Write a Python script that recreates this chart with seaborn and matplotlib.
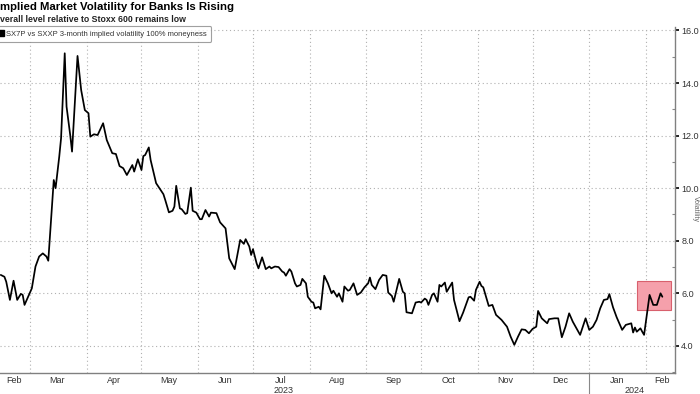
import matplotlib
matplotlib.use("Agg")
import matplotlib.pyplot as plt
import matplotlib.dates as mdates
from matplotlib.lines import Line2D
from matplotlib.patches import Rectangle
import seaborn as sns
import pandas as pd
import numpy as np

# ---- data ----
start_date = "2023-02-13"
day_offsets = [0, 2, 3, 5, 7, 9, 11, 12, 13, 17, 19, 21, 23, 25, 26, 29, 30, 32, 33, 35,
               36, 38, 39, 42, 44, 46, 48, 49, 51, 53, 56, 58, 61, 63, 65, 67, 69, 72, 73, 75,
               77, 78, 79, 81, 82, 85, 89, 90, 92, 94, 95, 96, 98, 99, 101, 102, 104, 105, 107, 109,
               110, 112, 114, 115, 118, 120, 123, 125, 128, 131, 133, 134, 136, 137, 138, 140, 141, 143, 145, 147,
               148, 150, 152, 154, 155, 156, 158, 159, 161, 162, 164, 165, 167, 168, 170, 171, 172, 174, 175, 177,
               179, 181, 182, 184, 185, 187, 188, 190, 191, 193, 195, 197, 199, 201, 202, 203, 205, 207, 209, 211,
               212, 214, 215, 217, 218, 220, 221, 222, 225, 227, 229, 230, 232, 233, 234, 236, 237, 239, 240, 241,
               243, 244, 247, 248, 250, 251, 253, 256, 257, 259, 260, 262, 263, 264, 266, 267, 269, 271, 274, 277,
               279, 281, 283, 285, 287, 289, 291, 293, 294, 296, 299, 300, 303, 305, 307, 309, 311, 313, 315, 317,
               320, 322, 324, 326, 328, 330, 332, 333, 335, 337, 340, 342, 345, 346, 347, 348, 350, 351, 352, 355,
               357, 359, 361, 362]
vol_ratio = [6.70, 6.63, 6.44, 5.75, 6.48, 5.75, 5.98, 5.94, 5.56, 6.19, 7.02, 7.40, 7.52, 7.40, 7.24, 10.31, 10.00, 11.20, 11.90, 15.13,
             13.10, 12.02, 11.39, 15.03, 13.73, 12.97, 12.85, 11.96, 12.05, 12.02, 12.47, 11.83, 11.33, 11.30, 10.84, 10.76, 10.50, 10.88, 10.63, 11.10,
             10.69, 11.22, 11.26, 11.55, 11.07, 10.19, 9.77, 9.55, 9.08, 9.14, 9.30, 10.09, 9.23, 9.20, 9.02, 9.05, 10.02, 9.14, 9.07, 8.82,
             8.82, 9.17, 8.92, 9.07, 9.05, 8.70, 8.47, 7.33, 6.92, 8.03, 7.88, 8.06, 7.78, 7.46, 7.68, 7.14, 6.95, 7.37, 6.92, 7.02,
             6.95, 7.02, 7.00, 6.83, 6.79, 6.67, 6.92, 6.83, 6.38, 6.26, 6.32, 6.55, 6.38, 5.87, 5.68, 5.65, 5.43, 5.49, 5.39, 6.67,
             6.38, 6.00, 6.10, 5.87, 6.00, 5.68, 6.26, 6.10, 6.13, 6.38, 5.94, 6.03, 6.23, 6.38, 6.60, 6.32, 6.16, 6.51, 6.70, 6.67,
             6.03, 5.90, 5.68, 6.26, 6.55, 6.06, 6.00, 5.28, 5.24, 5.65, 5.68, 5.65, 5.80, 5.75, 5.56, 5.94, 6.00, 5.68, 6.32, 6.26,
             6.41, 6.06, 6.41, 5.75, 5.22, 4.94, 5.27, 5.85, 5.87, 5.72, 6.13, 6.44, 6.28, 6.23, 5.75, 5.52, 5.56, 5.18, 4.99, 4.73,
             4.35, 4.04, 4.35, 4.63, 4.61, 4.48, 4.65, 4.73, 5.33, 5.05, 4.86, 5.02, 5.05, 5.05, 4.33, 4.73, 5.24, 4.92, 4.67, 4.42,
             5.05, 4.61, 4.73, 4.99, 5.43, 5.75, 5.78, 5.97, 5.47, 5.09, 4.61, 4.80, 4.86, 4.51, 4.70, 4.54, 4.67, 4.54, 4.42, 5.94,
             5.56, 5.56, 6.00, 5.87]

y_ticks = [4.0, 6.0, 8.0, 10.0, 12.0, 14.0, 16.0]
month_labels = ["Feb", "Mar", "Apr", "May", "Jun", "Jul", "Aug", "Sep", "Oct", "Nov", "Dec", "Jan", "Feb"]
month_label_dates = ["2023-02-20", "2023-03-16", "2023-04-16", "2023-05-16", "2023-06-16", "2023-07-16",
                     "2023-08-16", "2023-09-16", "2023-10-16", "2023-11-16", "2023-12-16", "2024-01-16", "2024-02-10"]
year_labels = ["2023", "2024"]
year_label_dates = ["2023-07-18", "2024-01-26"]
highlight_dates = ["2024-01-27", "2024-02-15"]
highlight_range = [5.37, 6.47]

title = "mplied Market Volatility for Banks Is Rising"
subtitle = "verall level relative to Stoxx 600 remains low"
series_name = "SX7P vs SXXP 3-month implied volatility 100% moneyness"
axis_note = "Volatility"

df = pd.DataFrame({
    "date": pd.Timestamp(start_date) + pd.to_timedelta(day_offsets, unit="D"),
    "value": vol_ratio,
})

# ---- figure ----
sns.set_style("white")
plt.rcParams["font.family"] = ["Liberation Sans", "DejaVu Sans"]

fig = plt.figure(figsize=(7.0, 3.94), dpi=100)
ax = fig.add_axes([0.0, 1 - 373 / 394, 675 / 700, (373 - 27) / 394])

# highlight box
h0, h1 = pd.Timestamp(highlight_dates[0]), pd.Timestamp(highlight_dates[1])
ax.add_patch(Rectangle((mdates.date2num(h0), highlight_range[0]),
                       mdates.date2num(h1) - mdates.date2num(h0),
                       highlight_range[1] - highlight_range[0],
                       facecolor="#f5a0ab", edgecolor="#d8606d", lw=0.8, zorder=1))

sns.lineplot(data=df, x="date", y="value", ax=ax, color="black", lw=1.25, zorder=3)

ax.set_xlim(pd.Timestamp("2023-02-12 14:00"), pd.Timestamp("2024-02-16 22:00"))
ax.set_ylim(2.97, 16.13)
ax.set_xlabel("")
ax.set_ylabel("")

# y axis on the right
ax.yaxis.tick_right()
ax.set_yticks(y_ticks)
ax.set_yticklabels([f"{v:.1f}" for v in y_ticks])
ax.set_yticks(np.arange(3.0, 16.5, 2.0), minor=True)
ax.tick_params(axis="y", which="major", direction="out", length=3, width=1.2,
               color="black", labelsize=6.5, labelcolor="#333333", pad=1.5)
ax.tick_params(axis="y", which="minor", direction="in", length=2.5, width=0.8, color="#888888")

# x axis: month boundaries (ticks/grid) and mid-month labels
month_starts = pd.date_range("2023-03-01", "2024-02-01", freq="MS")
ax.set_xticks(mdates.date2num(month_starts))
ax.set_xticklabels([])
ax.set_xticks(mdates.date2num(pd.to_datetime(month_label_dates)), minor=True)
ax.set_xticklabels(month_labels, minor=True)
ax.tick_params(axis="x", which="major", direction="out", length=3, width=0.8, color="#888888")
ax.tick_params(axis="x", which="minor", length=0, labelsize=6.5, labelcolor="#333333", pad=2)

for d, lab in zip(year_label_dates, year_labels):
    ax.text(mdates.date2num(pd.Timestamp(d)), -0.05, lab, transform=ax.get_xaxis_transform(),
            ha="center", va="center", fontsize=6.5, color="#333333")
ax.axvline(mdates.date2num(pd.Timestamp("2024-01-01")), ymin=-0.06, ymax=0, clip_on=False,
           color="#888888", lw=0.8)

ax.grid(True, which="major", axis="both", linestyle=(0, (1, 2.5)), color="#b0b0b0", lw=0.8)
for s in ["top", "left"]:
    ax.spines[s].set_visible(False)
for s in ["right", "bottom"]:
    ax.spines[s].set_color("#808080")
    ax.spines[s].set_linewidth(1.0)

# legend
handle = Line2D([], [], marker="s", color="black", linestyle="none", markersize=4.5)
leg = ax.legend([handle], [series_name], loc="upper left",
                bbox_to_anchor=(-6 / 700, 1 - 26 / 394), bbox_transform=fig.transFigure,
                frameon=True, fancybox=True, fontsize=5.5, handletextpad=0.25,
                borderpad=0.55, handlelength=0.8, borderaxespad=0)
leg.get_frame().set_edgecolor("#888888")
leg.get_frame().set_linewidth(0.8)
for t in leg.get_texts():
    t.set_color("#333333")

# titles
fig.text(0.0, 1 - 7 / 394, title, ha="left", va="center", fontsize=8.2, fontweight="bold", color="black")
fig.text(0.0, 1 - 19 / 394, subtitle, ha="left", va="center", fontsize=6.3, fontweight="bold", color="#222222")
fig.text(692 / 700, 1 - 196 / 394, axis_note, rotation=270, ha="left", va="top",
         fontsize=5, color="#666666")

fig.savefig("out.png", dpi=100)
